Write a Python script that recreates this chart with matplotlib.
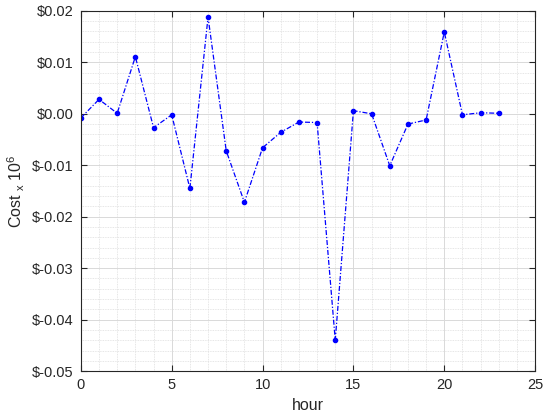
import matplotlib
matplotlib.use('Agg')
import matplotlib.pyplot as plt
from matplotlib.ticker import FuncFormatter, MultipleLocator

plt.rcParams['font.family'] = ['Liberation Sans', 'DejaVu Sans']
plt.rcParams['mathtext.fontset'] = 'custom'
plt.rcParams['mathtext.rm'] = 'Liberation Sans'

# hourly cost values
hour = list(range(24))
cost = [-0.0008, 0.0028, 0.0001, 0.0111, -0.0027, -0.0002, -0.0145, 0.0188,
        -0.0072, -0.0172, -0.0066, -0.0036, -0.0016, -0.0017, -0.0440, 0.0006,
        0.0000, -0.0101, -0.0020, -0.0012, 0.0159, -0.0002, 0.0002, 0.0001]

fig = plt.figure(figsize=(5.5, 4.17), dpi=100)
ax = fig.add_axes([0.147, 0.110, 0.826, 0.864])

ax.plot(hour, cost, color='#0000ff', linestyle=(0, (4, 1.5, 1, 1.5)),
        linewidth=0.9, marker='.', markersize=6)

ax.set_xlim(0, 25)
ax.set_ylim(-0.05, 0.02)
ax.xaxis.set_major_locator(MultipleLocator(5))
ax.xaxis.set_minor_locator(MultipleLocator(1))
ax.yaxis.set_major_locator(MultipleLocator(0.01))
ax.yaxis.set_minor_locator(MultipleLocator(0.002))


def money(v, pos):
    s = '%.2f' % v
    if s == '-0.00':
        s = '0.00'
    return '\\$' + s


ax.yaxis.set_major_formatter(FuncFormatter(money))

ax.grid(which='major', color='#d9d9d9', linewidth=0.7)
ax.grid(which='minor', color='#dedede', linewidth=0.6, linestyle=(0, (1, 1)))
ax.set_axisbelow(True)

ax.tick_params(which='both', direction='in', top=True, right=True,
               labelsize=10.5, colors='#262626')
ax.tick_params(which='minor', length=0)
ax.tick_params(which='major', length=4, pad=5)
for sp in ax.spines.values():
    sp.set_color('#262626')
    sp.set_linewidth(0.8)

ax.set_xlabel('hour', fontsize=11.5, color='#262626')
ax.set_ylabel('Cost $_{\\mathrm{x}}$ 10$^{6}$', fontsize=11.5, color='#262626')

fig.savefig('out.png', dpi=100)
